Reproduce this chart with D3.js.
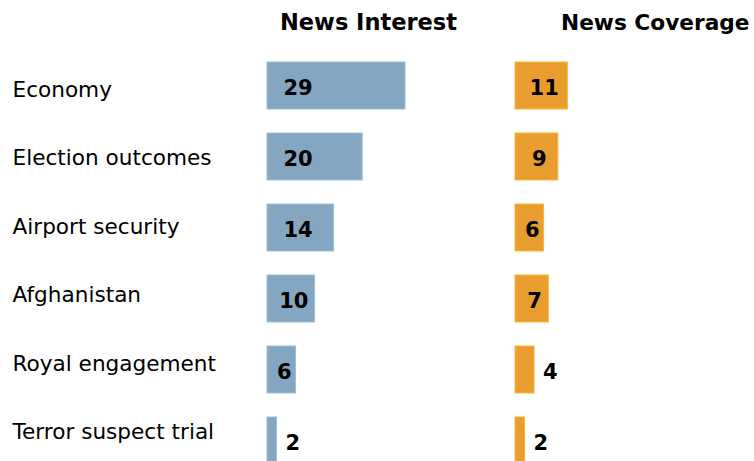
<!DOCTYPE html>
<html>
<head>
<meta charset="utf-8">
<script src="https://cdn.jsdelivr.net/npm/d3@7"></script>
<style>
  html, body { margin: 0; padding: 0; background: #fff; }
  svg { display: block; }
  text { font-family: "DejaVu Sans", Verdana, sans-serif; fill: #000; }
</style>
</head>
<body>
<svg id="chart" width="754" height="461"></svg>
<script>
// Top stories: share of public interest vs. share of news coverage (%)
const categories = ["Economy", "Election outcomes", "Airport security", "Afghanistan", "Royal engagement", "Terror suspect trial"];
const interest = [29, 20, 14, 10, 6, 2];
const coverage = [11, 9, 6, 7, 4, 2];
const panelTitles = ["News Interest", "News Coverage"];

const svg = d3.select("#chart");

// one row per story
const y = d3.scaleBand().domain(categories)
  .range([50, 476]).paddingInner(0.338).paddingOuter(0.169);
// row labels sit on their own, slightly tighter spacing
const yLabel = d3.scalePoint().domain(categories).range([97, 439]);
// shared percentage scale for both panels
const x = d3.scaleLinear().domain([0, 29]).range([0, 138]);

const panels = [
  { title: panelTitles[0], values: interest, x0: 267, color: "#85a6c0", titleX: 280, titleSize: 22.5 },
  { title: panelTitles[1], values: coverage, x0: 515, color: "#e99d2e", titleX: 561, titleSize: 21.7 }
];

// story names
svg.append("g").selectAll("text").data(categories).join("text")
  .attr("x", 12.5)
  .attr("y", d => yLabel(d))
  .style("font-size", "21.6px")
  .text(d => d);

panels.forEach(p => {
  const g = svg.append("g").attr("transform", `translate(${p.x0},0)`);

  svg.append("text")
    .attr("x", p.titleX).attr("y", 30)
    .style("font-size", p.titleSize + "px").style("font-weight", "bold")
    .text(p.title);

  const rows = categories.map((c, i) => ({ c, v: p.values[i] }));

  g.selectAll("rect").data(rows).join("rect")
    .attr("x", 0)
    .attr("y", d => y(d.c))
    .attr("width", d => x(d.v))
    .attr("height", y.bandwidth())
    .attr("fill", p.color)
    .attr("stroke", d3.color(p.color).brighter(0.4))
    .attr("stroke-width", 1);

  // value labels: inside the bar when it is wide enough, otherwise just past its end
  g.selectAll("text.val").data(rows).join("text")
    .attr("class", "val")
    .attr("x", d => {
      const w = x(d.v);
      return w < 20 ? w + 9 : Math.min(w / 2 + 3, 31);
    })
    .attr("text-anchor", d => x(d.v) < 20 ? "start" : "middle")
    .attr("y", d => y(d.c) + y.bandwidth() / 2 + 1.5)
    .attr("dy", "0.36em")
    .style("font-size", "21px").style("font-weight", "bold")
    .text(d => d.v);
});
</script>
</body>
</html>
